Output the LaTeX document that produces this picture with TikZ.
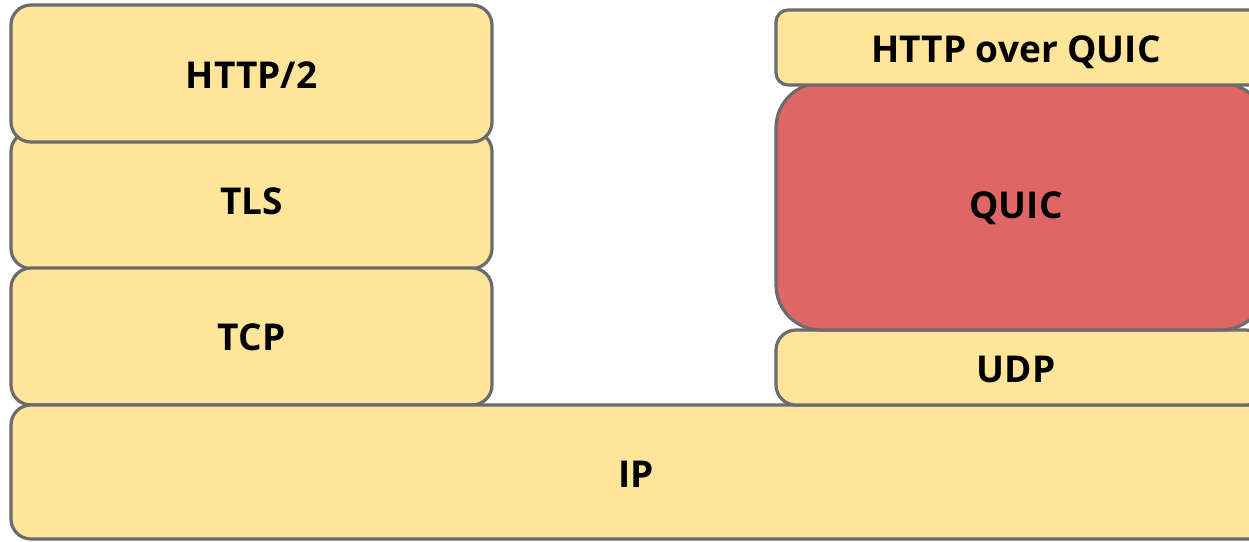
\documentclass[tikz,border=0pt]{standalone}
\usepackage{fontspec}
\setmainfont{Open Sans}
\definecolor{boxyellow}{HTML}{FFE599}
\definecolor{boxred}{HTML}{E06666}
\definecolor{boxline}{HTML}{6B6B6B}
\begin{document}
\begin{tikzpicture}[x=1pt,y=-1pt,
  lbl/.style={font=\fontsize{37}{44}\selectfont\bfseries, inner sep=0pt},
  layer/.style={draw=boxline, line width=3.2pt, fill=boxyellow, rounded corners=20pt,
    inner sep=0pt, outer sep=0pt},
  quiclayer/.style={layer, fill=boxred, rounded corners=45pt}]
\useasboundingbox (0,0) rectangle (1249,541);
\clip (0,0) rectangle (1249,541);
% left stack
\node[layer, minimum width=481pt, minimum height=137pt] (tls) at (251.5,200) {};
\node[layer, minimum width=481pt, minimum height=137pt] (http2) at (251.5,73.5) {};
\node[layer, minimum width=481pt, minimum height=137pt] (tcp) at (251.5,336.5) {};
% IP
\node[layer, minimum width=1260pt, minimum height=134pt] (ip) at (641,472) {};
% right stack
\node[layer, minimum width=490pt, minimum height=75pt] (udp) at (1021,367.5) {};
\node[quiclayer, minimum width=490pt, minimum height=247pt] (quic) at (1021,206.5) {};
\node[layer, rounded corners=12pt, minimum width=490pt, minimum height=75pt] (hoq) at (1021,47.5) {};
% labels
\node[lbl, anchor=base] (http2label) at (251.5,88) {HTTP/2};
\node[lbl, anchor=base] (tlslabel) at (251.5,214) {TLS};
\node[lbl, anchor=base] (tcplabel) at (251.5,350) {TCP};
\node[lbl, anchor=base] (iplabel) at (636,487) {IP};
\node[lbl, anchor=base] (udplabel) at (1016,382) {UDP};
\node[lbl, anchor=base] (quiclabel) at (1016,218) {QUIC};
\node[lbl, anchor=base] (hoqlabel) at (1016,62) {HTTP over QUIC};
\end{tikzpicture}
\end{document}
